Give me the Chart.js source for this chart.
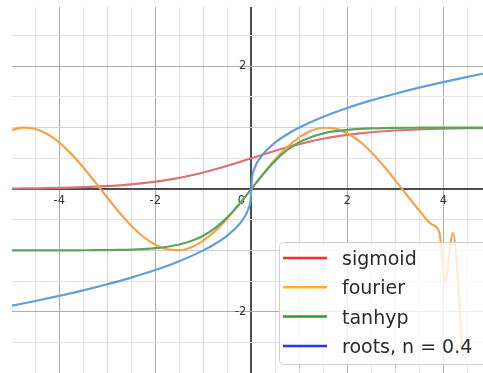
<!DOCTYPE html>
<html>
<head>
<meta charset="utf-8">
<script src="https://cdn.jsdelivr.net/npm/chart.js@4.4.1/dist/chart.umd.min.js"></script>
<style>
  html, body { margin: 0; padding: 0; background: #fff; }
</style>
</head>
<body>
<canvas id="FuncChart" width="483" height="373"></canvas>
<script>
// values
var xGrid = [-5, -4.75, -4.5, -4.25, -4, -3.75, -3.5, -3.25, -3, -2.75, -2.5, -2.25, -2, -1.75, -1.5, -1.25, -1, -0.75, -0.5, -0.25,
             0, 0.25, 0.5, 0.75, 1, 1.25, 1.5, 1.75, 2, 2.25, 2.5, 2.75, 3, 3.25, 3.5, 3.75, 4, 4.25, 4.5, 4.75, 5];
var sigmoidY = [0.007, 0.009, 0.011, 0.014, 0.018, 0.023, 0.029, 0.037, 0.047, 0.060, 0.076, 0.095, 0.119, 0.148, 0.182, 0.223, 0.269, 0.321, 0.378, 0.438,
                0.5, 0.562, 0.622, 0.679, 0.731, 0.777, 0.818, 0.852, 0.881, 0.905, 0.924, 0.940, 0.953, 0.963, 0.971, 0.977, 0.982, 0.986, 0.989, 0.991, 0.993];
var tanhypY = [-1.0, -1.0, -1.0, -1.0, -0.999, -0.999, -0.998, -0.997, -0.995, -0.992, -0.987, -0.978, -0.964, -0.941, -0.905, -0.848, -0.762, -0.635, -0.462, -0.245,
               0, 0.245, 0.462, 0.635, 0.762, 0.848, 0.905, 0.941, 0.964, 0.978, 0.987, 0.992, 0.995, 0.997, 0.998, 0.999, 0.999, 1.0, 1.0, 1.0, 1.0];
var fourierX = [-5, -4.75, -4.5, -4.25, -4, -3.75, -3.5, -3.25, -3, -2.75, -2.5, -2.25, -2, -1.75, -1.5, -1.25, -1, -0.75, -0.5, -0.25,
                0, 0.25, 0.5, 0.75, 1, 1.25, 1.5, 1.75, 2, 2.25, 2.5, 2.75, 3, 3.25, 3.5, 3.75, 3.92, 4.035, 4.2, 4.41];
var fourierY = [0.959, 0.999, 0.978, 0.895, 0.757, 0.572, 0.351, 0.108, -0.141, -0.382, -0.598, -0.778, -0.909, -0.984, -0.997, -0.949, -0.841, -0.682, -0.479, -0.247,
                0, 0.247, 0.479, 0.682, 0.841, 0.949, 0.997, 0.984, 0.909, 0.778, 0.598, 0.382, 0.141, -0.108, -0.351, -0.572, -0.71, -1.51, -0.72, -2.74];
var rootsX = [-5, -4.5, -4, -3.5, -3, -2.5, -2, -1.5, -1, -0.75, -0.5, -0.25, -0.15, -0.1, -0.05, -0.02,
              0, 0.02, 0.05, 0.1, 0.15, 0.25, 0.5, 0.75, 1, 1.5, 2, 2.5, 3, 3.5, 4, 4.5, 5];
var rootsY = [-1.904, -1.825, -1.741, -1.651, -1.552, -1.443, -1.320, -1.176, -1.0, -0.891, -0.758, -0.574, -0.468, -0.398, -0.302, -0.209,
              0, 0.209, 0.302, 0.398, 0.468, 0.574, 0.758, 0.891, 1.0, 1.176, 1.320, 1.443, 1.552, 1.651, 1.741, 1.825, 1.904];

var seriesNames = ['sigmoid', 'fourier', 'tanhyp', 'roots, n = 0.4'];
var lineColors = ['#da7474', '#f5a24e', '#5ea35e', '#639ed7'];
var legendColors = ['#ff2b2b', '#ffb12c', '#2f9a2f', '#2f2fff'];
var xTickLabels = [-4, -2, 0, 2, 4];
var yTickLabels = [-2, 2];

function toPoints(xs, ys) {
    var pts = [];
    for (var i in xs) {
        pts.push({x: xs[i], y: ys[i]});
    }
    return pts;
}

var seriesData = [
    toPoints(xGrid, sigmoidY),
    toPoints(fourierX, fourierY),
    toPoints(xGrid, tanhypY),
    toPoints(rootsX, rootsY)
];

function gridColor(v) {
    if (Math.abs(v) < 1e-9) return '#4d4d4d';
    if (Math.abs(v % 2) < 1e-9) return '#acacac';
    if (Math.abs(v % 1) < 1e-9) return '#d2d2d2';
    return '#e3e3e3';
}

var gridOpts = {
    drawTicks: false,
    color: function(c) { return gridColor(c.tick.value); },
    lineWidth: function(c) { return Math.abs(c.tick.value) < 1e-9 ? 2 : 1; }
};

// tick labels next to the axes, and the legend box in the lower right
var overlay = {
    id: 'overlay',
    beforeDatasetsDraw: function(chart) {
        var ctx = chart.ctx;
        var xs = chart.scales.x, ys = chart.scales.y;
        var x0 = xs.getPixelForValue(0), y0 = ys.getPixelForValue(0);
        ctx.save();
        ctx.font = '11.5px "DejaVu Sans"';
        ctx.fillStyle = '#333';
        ctx.textBaseline = 'middle';
        ctx.textAlign = 'center';
        xTickLabels.forEach(function(v) {
            var px = xs.getPixelForValue(v);
            if (v === 0) px -= 10;
            ctx.fillText(String(v), px, y0 + 12);
        });
        ctx.textAlign = 'right';
        yTickLabels.forEach(function(v) {
            ctx.fillText(String(v), x0 - 5, ys.getPixelForValue(v));
        });
        ctx.restore();
    },
    afterDraw: function(chart) {
        var ctx = chart.ctx;
        var bx = 279.5, by = 242.5, bw = 230, bh = 122;
        ctx.save();
        ctx.beginPath();
        ctx.roundRect(bx, by, bw, bh, 4);
        ctx.fillStyle = 'rgba(255,255,255,0.8)';
        ctx.fill();
        ctx.strokeStyle = '#d0d0d0';
        ctx.lineWidth = 1;
        ctx.stroke();
        ctx.font = '19px "DejaVu Sans"';
        ctx.textBaseline = 'middle';
        ctx.textAlign = 'left';
        for (var i = 0; i < seriesNames.length; i++) {
            var ry = 258 + i * 29.3;
            ctx.strokeStyle = legendColors[i];
            ctx.lineWidth = 2.5;
            ctx.beginPath();
            ctx.moveTo(283, ry);
            ctx.lineTo(327, ry);
            ctx.stroke();
            ctx.fillStyle = '#2a2a2a';
            ctx.fillText(seriesNames[i], 342, ry + 2);
        }
        ctx.restore();
    }
};

var datasets = [];
for (var i = 0; i < seriesNames.length; i++) {
    datasets.push({
        label: seriesNames[i],
        data: seriesData[i],
        showLine: true,
        borderColor: lineColors[i],
        backgroundColor: lineColors[i],
        borderWidth: 2.2,
        pointRadius: 0,
        cubicInterpolationMode: 'monotone',
        fill: false,
        clip: 0,
        order: seriesNames.length - i
    });
}

var ctx = document.getElementById('FuncChart');
var FuncChart = new Chart(ctx, {
    type: 'scatter',
    data: { datasets: datasets },
    options: {
        responsive: false,
        animation: false,
        devicePixelRatio: 1,
        layout: { padding: { left: 12, top: 7, right: 0, bottom: 0 } },
        plugins: {
            legend: { display: false },
            tooltip: { enabled: false }
        },
        scales: {
            x: {
                type: 'linear',
                min: -4.985,
                max: 4.827,
                grid: gridOpts,
                border: { display: false },
                ticks: { display: false, stepSize: 0.5, includeBounds: false }
            },
            y: {
                type: 'linear',
                min: -2.997,
                max: 2.964,
                grid: gridOpts,
                border: { display: false },
                ticks: { display: false, stepSize: 0.5, includeBounds: false }
            }
        }
    },
    plugins: [overlay]
});
</script>
</body>
</html>
